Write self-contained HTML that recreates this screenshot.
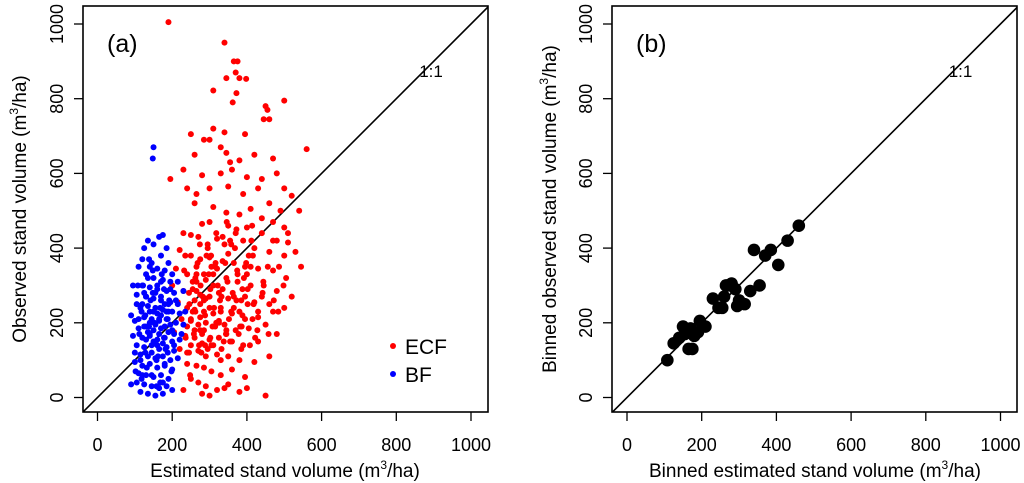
<!DOCTYPE html>
<html><head><meta charset="utf-8"><style>
body{margin:0;background:#fff;}
svg{display:block;font-family:"Liberation Sans",Arial,sans-serif;}
</style></head><body>
<div style="position:relative;width:1024px;height:483px">
<svg id="c" width="1024" height="483" viewBox="0 0 1024 483" style="position:absolute;left:0;top:0"></svg>
<svg width="1024" height="483" style="position:absolute;left:0;top:0">
 <g><text x="285" y="477" font-size="19" text-anchor="middle">Estimated stand volume (m<tspan font-size="12" dy="-8">3</tspan><tspan dy="8">/ha)</tspan></text></g>
 <g><text x="815" y="477" font-size="19" text-anchor="middle">Binned estimated stand volume (m<tspan font-size="12" dy="-8">3</tspan><tspan dy="8">/ha)</tspan></text></g>
 <g><text transform="translate(26 209) rotate(-90)" font-size="19" text-anchor="middle">Observed stand volume (m<tspan font-size="12" dy="-8">3</tspan><tspan dy="8">/ha)</tspan></text></g>
 <g><text transform="translate(556 209) rotate(-90)" font-size="19" text-anchor="middle">Binned observed stand volume (m<tspan font-size="12" dy="-8">3</tspan><tspan dy="8">/ha)</tspan></text></g>
 <g>
  <circle cx="393" cy="346" r="3" fill="#ff0000"/>
  <text x="405" y="354" font-size="21">ECF</text>
  <circle cx="393" cy="374" r="3" fill="#0000ff"/>
  <text x="405" y="382" font-size="21">BF</text>
 </g>
</svg>
</div>
<script>
const xTicks=[0,200,400,600,800,1000];
const yTicks=[0,200,400,600,800,1000];
const ecfX=[190,340,365,375,370,345,380,310,372,398,362,450,455,460,500,445,310,340,250,395,285,300,260,330,345,380,355,420,470,560,230,280,330,360,400,440,480,500,520,195,240,265,300,350,390,430,460,490,540,260,310,345,380,410,440,470,500,280,300,350,370,400,440,480,510,230,250,270,320,340,390,420,460,500,545,220,250,275,300,335,365,395,430,470,505,210,240,265,290,310,345,375,410,445,480,200,230,255,275,300,325,350,385,420,460,500,215,240,260,285,310,330,360,395,430,470,225,250,270,290,315,340,370,405,450,205,235,260,280,300,325,355,390,430,480,220,245,270,295,320,350,380,420,460,240,265,285,305,330,360,395,250,270,290,320,350,380,280,300,340,400,450,230,250,275,305,335,285,265,310,240,260,290,320,350,275,300,280,325,255,295,365,410,380,440,285,265,235,310,330,345,
240,255,265,275,285,295,305,315,325,335,345,355,365,375,385,395,405,415,245,258,268,278,288,298,308,318,328,338,348,358,368,378,388,398,408,418,250,262,272,282,292,302,312,322,332,342,352,362,372,382,392,402,412,422,236,248,262,276,290,304,318,332,346,360,374,388,402,416,430,444,458,472,486,232,246,260,274,288,302,316,330,344,358,372,386,400,414,428,442,456,470,484,498,510,520,530];
const ecfY=[1005,950,900,900,870,855,855,822,815,853,790,780,770,745,795,745,720,710,705,705,690,690,650,670,655,635,630,650,640,665,610,595,600,610,590,585,600,560,540,585,560,545,560,565,545,560,520,500,500,520,510,495,490,505,480,470,455,465,470,460,440,455,440,420,415,440,435,430,425,410,420,400,390,380,350,395,380,370,375,365,360,350,345,340,320,345,330,330,315,330,320,310,300,300,285,300,285,290,275,270,280,265,260,255,250,240,255,240,235,230,225,240,225,210,215,230,210,205,195,200,190,195,180,185,195,175,165,160,170,155,160,150,140,150,170,130,120,125,130,115,110,100,95,110,90,85,80,70,60,75,55,50,40,30,20,35,15,10,5,25,25,5,20,140,250,350,430,330,285,300,190,260,265,345,385,215,240,145,205,310,410,270,350,230,270,180,350,380,140,100,180,
120,230,310,180,260,400,140,350,200,290,170,420,240,330,130,270,380,210,280,170,360,120,220,330,190,440,260,150,310,230,400,170,290,360,140,250,210,320,140,270,380,160,240,300,130,360,210,280,450,190,320,250,420,160,160,60,230,300,110,380,200,270,470,150,340,220,290,380,230,310,170,260,350,340,250,180,410,140,290,360,230,170,410,260,190,330,460,180,280,350,420,230,300,440,270,390];
const bfX=[150,148,165,175,135,150,125,170,190,110,140,160,180,200,130,150,175,195,215,95,120,140,160,185,205,230,105,130,150,170,195,215,90,115,135,155,175,200,220,100,125,145,165,185,210,230,110,130,150,170,190,205,95,120,140,160,180,200,220,105,125,145,165,185,205,115,135,155,175,195,215,100,120,140,160,180,200,110,130,150,170,190,90,105,125,145,165,185,115,135,155,175,200,140,160,170,180,150,135,190,120,145,165,175,195,130,210,160,145,185,120,235,225,155,140,170,180,125,
100,110,120,130,140,150,160,170,180,190,200,105,115,125,135,145,155,165,175,185,195,205,112,122,132,142,152,162,172,182,192,102,118,128,138,148,158,168,178,188,198,108,128,148,168,188,138,158,178,118];
const bfY=[670,640,430,435,420,410,400,380,360,350,350,345,340,330,330,320,315,310,310,300,300,295,290,285,280,285,275,270,265,260,255,250,220,240,245,240,235,230,225,205,215,210,205,210,200,195,185,190,180,185,175,170,165,160,165,155,160,150,155,140,135,140,130,135,125,115,110,105,110,100,105,95,85,90,80,85,75,65,60,55,60,50,35,40,35,30,25,30,15,10,5,10,20,200,225,270,190,150,175,230,250,120,170,145,195,155,260,300,360,400,370,230,170,195,230,220,250,280,
120,210,60,270,170,230,140,310,90,250,180,250,100,190,320,60,280,210,40,230,290,140,170,300,80,260,200,110,330,130,260,70,230,120,190,280,30,240,160,210,70,300,220,340,40,120,370,100,290,50];
const binX=[108,125,140,150,155,165,175,170,190,195,210,230,245,255,260,270,280,290,295,300,315,330,355,340,370,385,405,430,460,180,265];
const binY=[100,145,160,190,170,130,130,185,175,205,190,265,240,240,270,300,305,290,245,260,250,285,300,395,380,395,355,420,460,165,300];

const NS="http://www.w3.org/2000/svg";
const svg=document.getElementById('c');
function el(tag,attrs,parent){const e=document.createElementNS(NS,tag);for(const k in attrs)e.setAttribute(k,attrs[k]);(parent||svg).appendChild(e);return e;}
const y=v=>397.5-v*0.3735;
const panels=[{left:83,right:488,x0:97.5,tag:'a'},{left:612,right:1017,x0:627,tag:'b'}];
panels.forEach(p=>{
  const x=v=>p.x0+v*0.3735;
  const g=el('g',{});
  
  
  const clip=el('clipPath',{id:'clip'+p.tag},g);
  el('rect',{x:p.left,y:6,width:p.right-p.left,height:406},clip);
  const ln=el('line',{x1:p.left,y1:y((p.left-p.x0)/0.3735),x2:p.right,y2:y((p.right-p.x0)/0.3735),stroke:'#000','stroke-width':1.6,'clip-path':'url(#clip'+p.tag+')'},g);
  
  
  if(p.tag==='a'){
    ecfX.forEach((v,i)=>{const c=el('circle',{cx:x(v),cy:y(ecfY[i]),r:3,fill:'#ff0000'},g);
      
      });
    bfX.forEach((v,i)=>{const c=el('circle',{cx:x(v),cy:y(bfY[i]),r:3,fill:'#0000ff'},g);
      
      });
  } else {
    binX.forEach((v,i)=>{const c=el('circle',{cx:x(v),cy:y(binY[i]),r:6.3,fill:'#000'},g);
      
      });
  }
  const box=el('rect',{x:p.left,y:6,width:p.right-p.left,height:406,fill:'none',stroke:'#000','stroke-width':1.6},g);
  
  
  xTicks.forEach(t=>{
    el('line',{x1:x(t),y1:412,x2:x(t),y2:421,stroke:'#000','stroke-width':1.3},g);
    const tx=el('text',{x:x(t),y:451,'font-size':18,'text-anchor':'middle'},g);tx.textContent=t;
    
    
  });
  yTicks.forEach(t=>{
    el('line',{x1:p.left,y1:y(t),x2:p.left-9,y2:y(t),stroke:'#000','stroke-width':1.3},g);
    const tx=el('text',{x:p.left-20,y:y(t),'font-size':18,'text-anchor':'middle',transform:`rotate(-90 ${p.left-20} ${y(t)})`},g);tx.textContent=t;
    
    
  });
  const r11=el('text',{x:x(893),y:77,'font-size':17,'text-anchor':'middle'},g);r11.textContent='1:1';
  
  
  const pl=el('text',{x:p.left+24,y:52,'font-size':25},g);pl.textContent='('+p.tag+')';
  
  
});
</script>
</body></html>
